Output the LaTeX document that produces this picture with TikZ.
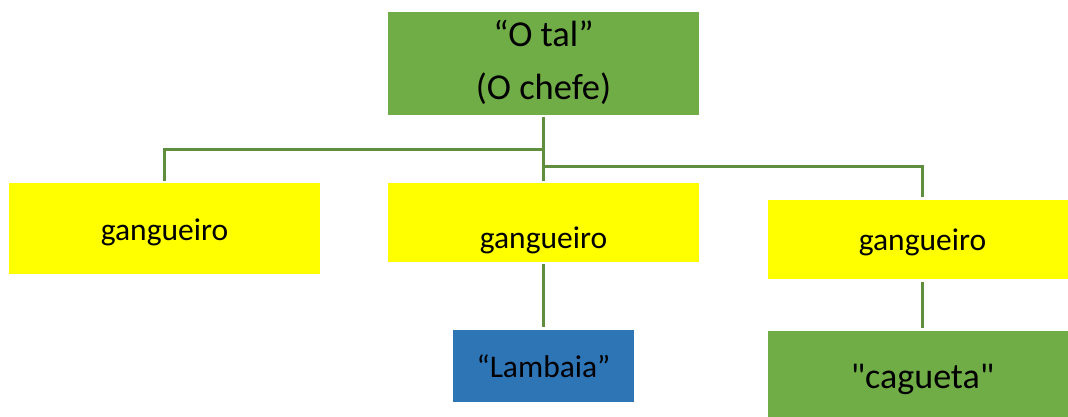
\documentclass[tikz,border=0pt]{standalone}
\usepackage{fontspec}
\setmainfont{Carlito}[Ligatures=TeXOff]
\definecolor{boxgreen}{HTML}{70AD47}
\definecolor{boxyellow}{HTML}{FFFF00}
\definecolor{boxblue}{HTML}{2E75B6}
\definecolor{linegreen}{HTML}{5E8E3E}
\tikzset{
  box/.style={draw=none, inner sep=0pt, outer sep=0pt, anchor=north west},
  lbl/.style={inner sep=0pt, outer sep=0pt, anchor=base},
  conn/.style={draw=linegreen, line width=3pt},
}
\begin{document}
\begin{tikzpicture}[x=1pt,y=-1pt]
\useasboundingbox (0,0) rectangle (1068,417);
% boxes
\node[box, fill=boxgreen, minimum width=311pt, minimum height=103pt] (top) at (388,12) {};
\node[box, fill=boxyellow, minimum width=311pt, minimum height=91pt] (left) at (9,183) {};
\node[box, fill=boxyellow, minimum width=311pt, minimum height=79pt] (mid) at (388,183) {};
\node[box, fill=boxyellow, minimum width=300pt, minimum height=79pt] (right) at (768,200) {};
\node[box, fill=boxblue, minimum width=181pt, minimum height=72pt] (lam) at (453,330) {};
\node[box, fill=boxgreen, minimum width=300pt, minimum height=87pt] (cag) at (768,331) {};
% labels
\node[lbl, font=\fontsize{36.5}{44}\selectfont] (t1) at (543.5,47) {“O tal”};
\node[lbl, font=\fontsize{36.5}{44}\selectfont] (t2) at (543.5,100) {(O chefe)};
\node[lbl, font=\fontsize{31.5}{38}\selectfont] (l1) at (164.5,240) {gangueiro};
\node[lbl, font=\fontsize{31.5}{38}\selectfont] (m1) at (543.5,248) {gangueiro};
\node[lbl, font=\fontsize{31.5}{38}\selectfont] (r1) at (922.5,250) {gangueiro};
\node[lbl, font=\fontsize{31.5}{38}\selectfont] (la1) at (543.5,377) {“Lambaia”};
\node[lbl, font=\fontsize{36}{43}\selectfont] (c1) at (922.5,388) {"cagueta"};
% junctions
\coordinate (j1) at (543,150);
\coordinate (j2) at (543,166);
% connectors
\draw[conn] ([yshift=-2pt]top.south) -- ([yshift=2pt]mid.north);
\draw[conn] (j1) -| ([yshift=2pt]left.north);
\draw[conn] (j2) -| ([xshift=4.5pt,yshift=3pt]right.north);
\draw[conn] ([yshift=-2pt]mid.south) -- ([yshift=3pt]lam.north);
\draw[conn] ([xshift=4.5pt,yshift=-3pt]right.south) -- ([xshift=4.5pt,yshift=3pt]cag.north);
\end{tikzpicture}
\end{document}
